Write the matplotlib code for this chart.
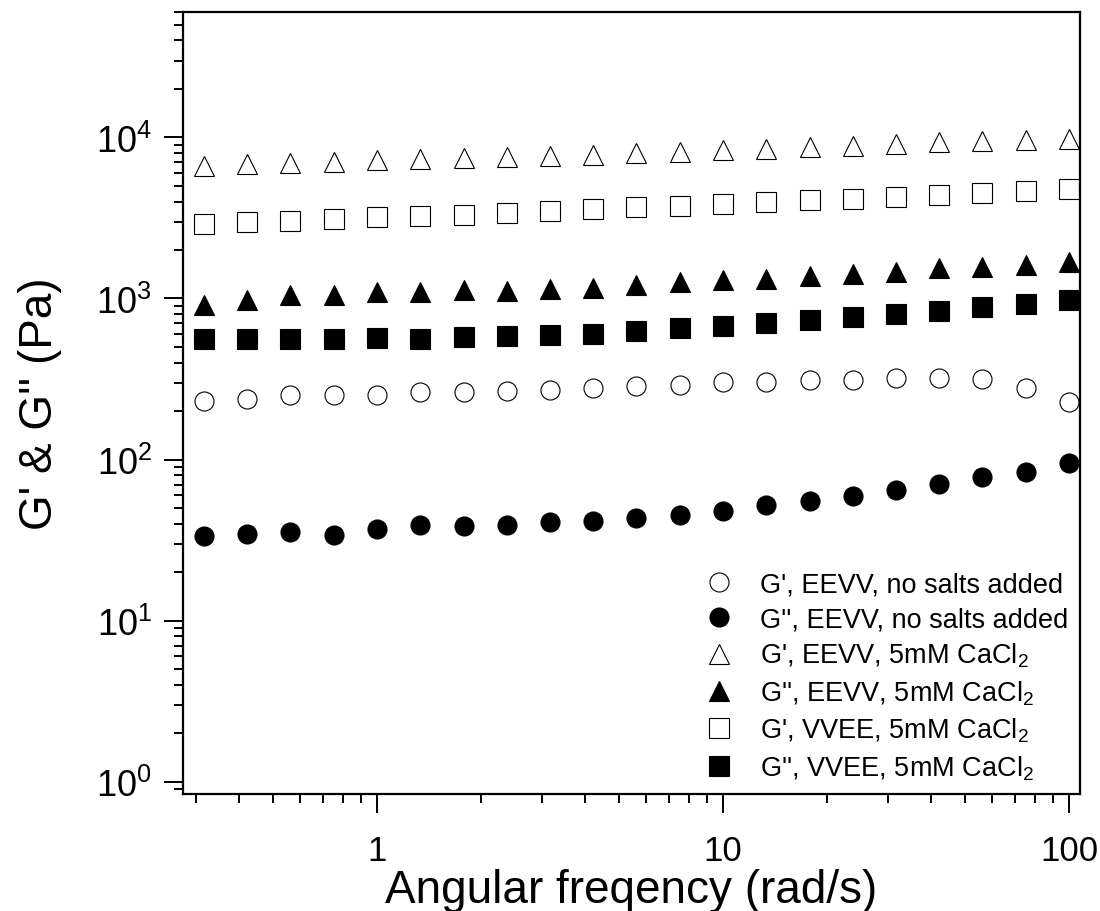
import matplotlib
matplotlib.use("Agg")
import matplotlib.pyplot as plt
from matplotlib.ticker import LogLocator, NullFormatter
import numpy as np

plt.rcParams['font.family'] = ['Liberation Sans', 'DejaVu Sans']
plt.rcParams['mathtext.default'] = 'regular'

# Angular frequency (rad/s)
freq = [0.316, 0.422, 0.562, 0.75, 1.0, 1.33, 1.78, 2.37, 3.16, 4.22, 5.62,
        7.5, 10.0, 13.3, 17.8, 23.7, 31.6, 42.2, 56.2, 75.0, 100.0]

# EEVV, no salts added
g1_eevv = [230, 239, 250, 250, 251, 261, 264, 268, 272, 280, 285,
           292, 301, 304, 310, 314, 319, 319, 315, 279, 228]
g2_eevv = [33.4, 34.7, 35.6, 33.9, 36.9, 39.1, 38.7, 39.1, 41.0, 41.6, 43.4,
           45.5, 47.7, 52.0, 55.4, 59.1, 64.4, 70.9, 77.6, 83.4, 95.8]

# EEVV, 5mM CaCl2
g1_eevv_ca = [6650, 6830, 6900, 7080, 7200, 7330, 7440, 7530, 7640, 7810, 8010,
              8150, 8300, 8500, 8730, 8850, 9090, 9350, 9440, 9680, 9820]
g2_eevv_ca = [914, 972, 1049, 1045, 1090, 1101, 1127, 1114, 1141, 1170, 1216,
              1262, 1294, 1326, 1380, 1414, 1465, 1536, 1574, 1620, 1690]

# VVEE, 5mM CaCl2
g1_vvee_ca = [2895, 2970, 3040, 3130, 3200, 3240, 3320, 3390, 3480, 3575, 3675,
              3765, 3855, 3960, 4065, 4165, 4255, 4410, 4520, 4640, 4775]
g2_vvee_ca = [564, 558, 558, 558, 570, 564, 578, 583, 592, 606, 631,
              653, 678, 703, 738, 770, 796, 839, 888, 931, 982]

labels = ["G', EEVV, no salts added",
          "G'', EEVV, no salts added",
          "G', EEVV, 5mM CaCl$_2$",
          "G'', EEVV, 5mM CaCl$_2$",
          "G', VVEE, 5mM CaCl$_2$",
          "G'', VVEE, 5mM CaCl$_2$"]


def make_plot():
    fig = plt.figure(figsize=(11, 9.12), dpi=100)
    ax = fig.add_axes([0.1664, 0.1283, 0.8154, 0.8574])

    ms = 13.7
    open_kw = dict(ls='none', ms=ms, mfc='white', mec='black', mew=0.8)
    fill_kw = dict(ls='none', ms=ms, mfc='black', mec='black', mew=0.8)

    ax.plot(freq, g1_eevv, 'o', label=labels[0], **open_kw)
    ax.plot(freq, g2_eevv, 'o', label=labels[1], **fill_kw)
    ax.plot(freq, g1_eevv_ca, '^', label=labels[2], **open_kw)
    ax.plot(freq, g2_eevv_ca, '^', label=labels[3], **fill_kw)
    ax.plot(freq, g1_vvee_ca, 's', label=labels[4], **open_kw)
    ax.plot(freq, g2_vvee_ca, 's', label=labels[5], **fill_kw)

    ax.set_xscale('log')
    ax.set_yscale('log')
    ax.set_xlim(0.275, 107.6)
    ax.set_ylim(0.84, 6.0e4)

    ax.yaxis.set_major_locator(LogLocator(base=10, numticks=10))
    ax.yaxis.set_minor_locator(LogLocator(base=10, subs=np.arange(2, 10), numticks=20))
    ax.yaxis.set_minor_formatter(NullFormatter())
    ax.xaxis.set_minor_formatter(NullFormatter())
    ax.set_xticks([1, 10, 100])
    ax.set_xticklabels(['1', '10', '100'])

    for s in ax.spines.values():
        s.set_linewidth(1.6)
    ax.tick_params(which='both', direction='out', top=False, right=False, width=1.4)
    ax.tick_params(which='major', length=13.5)
    ax.tick_params(which='minor', length=6.8)
    ax.tick_params(axis='x', which='major', labelsize=25, pad=15)
    ax.tick_params(axis='y', which='major', labelsize=26, pad=9)

    ax.set_xlabel("Angular freqency (rad/s)", fontsize=33, labelpad=1)
    ax.set_ylabel("G' & G'' (Pa)", fontsize=33)
    ax.yaxis.set_label_coords(-0.135, 0.5)

    ax.legend(loc='lower right', frameon=False, fontsize=19.5, numpoints=1,
              handlelength=1.0, handletextpad=1.0, labelspacing=0.33,
              borderpad=0.2, borderaxespad=0.25)

    fig.savefig("out.png", dpi=100)


if __name__ == '__main__':
    make_plot()
